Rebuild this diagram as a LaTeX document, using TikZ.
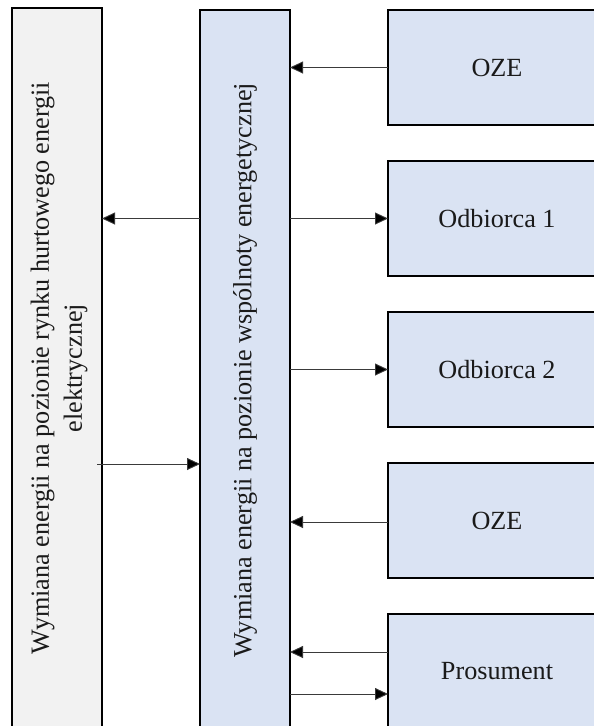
\documentclass[tikz,border=0pt]{standalone}
\usepackage{fontspec}
\setmainfont{Liberation Serif}
\usetikzlibrary{arrows.meta}
\definecolor{boxgray}{HTML}{F2F2F2}
\definecolor{boxblue}{HTML}{DAE3F3}
\definecolor{linegray}{HTML}{3A3A3A}
\definecolor{textdark}{HTML}{1A1A1A}
\begin{document}
\begin{tikzpicture}[x=1pt,y=-1pt,
  box/.style={draw=black, line width=1.8pt, inner sep=0pt, outer sep=0pt},
  gray box/.style={box, fill=boxgray},
  blue box/.style={box, fill=boxblue},
  level/.style={minimum width=90pt, minimum height=720pt},
  party/.style={blue box, minimum width=218pt, minimum height=115pt,
    text=textdark, font=\fontsize{26.2}{30}\selectfont},
  vtext/.style={rotate=90, align=center, text=textdark,
    font=\fontsize{26.2}{33}\selectfont},
  flow/.style={line width=0.9pt, draw=linegray,
    -{Triangle[length=13pt,width=12pt,fill=black]}}
]
\clip (0,0) rectangle (594,726);

% two exchange levels
\node[gray box, level] (rynek) at (57,368) {};
\node[vtext] (rynekT) at ([xshift=2pt]rynek.center)
  {Wymiana energii na pozionie rynku hurtowego energii\\elektrycznej};
\node[blue box, level] (wspolnota) at (245,370) {};
\node[vtext] (wspolnotaT) at (wspolnota.center)
  {Wymiana energii na pozionie wspólnoty energetycznej};

% community members
\node[party] (oze1) at (497,67.5) {OZE};
\node[party] (odb1) at (497,218.5) {Odbiorca 1};
\node[party] (odb2) at (497,369.5) {Odbiorca 2};
\node[party] (oze2) at (497,520.5) {OZE};
\node[party] (pros) at (497,671.5) {Prosument};

% energy flows
\draw[flow] (oze1.west) -- (oze1.west -| wspolnota.east);
\draw[flow] (wspolnota.west |- odb1.west) -- (rynek.east |- odb1.west);
\draw[flow] (wspolnota.east |- odb1.west) -- (odb1.west);
\draw[flow] (wspolnota.east |- odb2.west) -- (odb2.west);
\coordinate (zakup) at (97,464);
\draw[flow] (zakup) -- (zakup -| wspolnota.west);
\draw[flow] ([yshift=-1.5pt]oze2.west) -- ([yshift=-1.5pt]oze2.west -| wspolnota.east);
\draw[flow] ([yshift=19.5pt]pros.west) -- ([yshift=19.5pt]pros.west -| wspolnota.east);
\draw[flow] ([yshift=-22.5pt]pros.west -| wspolnota.east) -- ([yshift=-22.5pt]pros.west);
\end{tikzpicture}
\end{document}
